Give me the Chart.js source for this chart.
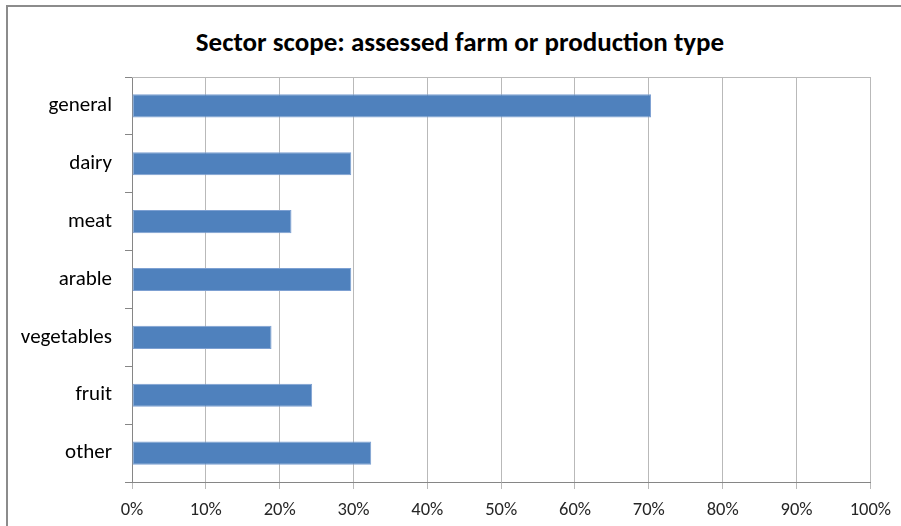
<!DOCTYPE html>
<html>
<head>
<meta charset="utf-8">
<script src="https://cdn.jsdelivr.net/npm/chart.js@4/dist/chart.umd.min.js"></script>
<style>
  html, body { margin: 0; padding: 0; background: #fff; }
  #wrap { position: relative; width: 901px; height: 526px; overflow: hidden; }
  #frame {
    position: absolute; left: 6px; top: 5px; width: 1000px; height: 1000px;
    border-left: 2px solid #8c8c8c; border-top: 2px solid #8c8c8c;
  }
  #title {
    position: absolute; left: 0; top: 27px; width: 920px; height: 30px;
    line-height: 30px; text-align: center; color: #000;
    font-family: Carlito, 'Open Sans', sans-serif; font-size: 27px; font-weight: bold;
  }
  #myChart { position: absolute; left: 0; top: 0; }
</style>
</head>
<body>
<div id="wrap">
  <div id="frame"></div>
  <div id="title"></div>
  <canvas id="myChart" width="901" height="526"></canvas>
</div>
<script>
const categories = ["general", "dairy", "meat", "arable", "vegetables", "fruit", "other"];
const shares = [70.3, 29.7, 21.6, 29.7, 18.9, 24.4, 32.4];
const xTickLabels = ["0%", "10%", "20%", "30%", "40%", "50%", "60%", "70%", "80%", "90%", "100%"];
const chartTitle = "Sector scope: assessed farm or production type";

const fontFamily = "Carlito, 'Open Sans', 'Liberation Sans', sans-serif";

document.getElementById("title").textContent = chartTitle;

// top border of the plot area
const plotTop = {
    id: "plotTop",
    afterDraw(chart) {
        const a = chart.chartArea;
        const c = chart.ctx;
        c.save();
        c.strokeStyle = "#b9b9b9";
        c.lineWidth = 1;
        c.beginPath();
        c.moveTo(a.left, a.top + 0.5);
        c.lineTo(a.right, a.top + 0.5);
        c.stroke();
        c.restore();
    },
};

const ctx = document.getElementById("myChart").getContext("2d");
const myChart = new Chart(ctx, {
    type: "bar",
    data: {
        labels: categories,
        datasets: [
            {
                label: "share",
                data: shares,
                backgroundColor: "#4f81bd",
                borderColor: "#7da0d2",
                borderWidth: 1,
                borderSkipped: false,
                barPercentage: 0.4,
                categoryPercentage: 1,
            },
        ],
    },
    plugins: [plotTop],
    options: {
        indexAxis: "y",
        responsive: false,
        animation: false,
        layout: { padding: { left: 0, right: 30, top: 77, bottom: 0 } },
        plugins: {
            legend: { display: false },
            tooltip: { enabled: false },
            title: { display: false },
        },
        scales: {
            x: {
                min: 0,
                max: 100,
                afterBuildTicks: (s) => {
                    s.ticks = xTickLabels.map((t, i) => ({ value: i * 10 }));
                },
                afterFit: (s) => { s.height = 44; },
                grid: { color: "#b9b9b9", tickLength: 7 },
                border: { color: "#868686" },
                ticks: {
                    color: "#262626",
                    padding: 10,
                    maxRotation: 0,
                    font: { family: fontFamily, size: 18.5 },
                    callback: (v, i) => xTickLabels[i],
                },
            },
            y: {
                afterFit: (s) => { s.width = 132; },
                grid: { drawOnChartArea: false, color: "#868686", tickLength: 7, offset: true },
                border: { color: "#868686" },
                ticks: {
                    color: "#000",
                    padding: 13,
                    font: { family: fontFamily, size: 21 },
                },
            },
        },
    },
});
</script>
</body>
</html>
